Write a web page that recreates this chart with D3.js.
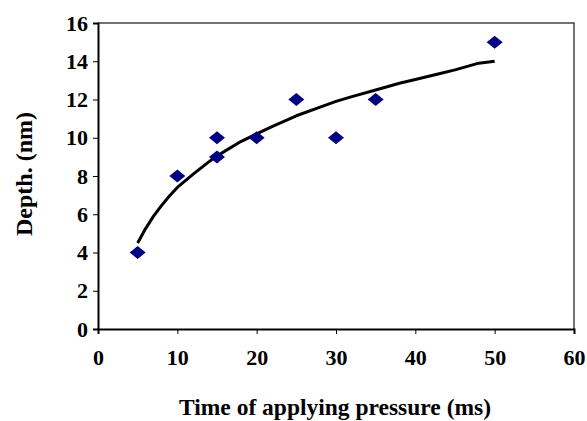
<!DOCTYPE html>
<html>
<head>
<meta charset="utf-8">
<script src="https://cdn.jsdelivr.net/npm/d3@7"></script>
<style>
  body { margin: 0; background: #fff; }
  svg text { font-family: "Liberation Serif", "Times New Roman", "DejaVu Serif", serif; font-weight: bold; fill: #000; }
</style>
</head>
<body>
<div id="chart"></div>
<script>
'use strict';

// measured points
var timeMs = [5, 10, 15, 15, 20, 25, 30, 35, 50];
var depthNm = [4, 8, 10, 9, 10, 12, 10, 12, 15];

// trend line
var trendX = [5, 6, 7, 8, 9, 10, 12, 14, 15, 16, 18, 20, 22, 25, 28, 30, 32, 35, 38, 40, 43, 45, 48, 50];
var trendY = [4.5, 5.25, 5.9, 6.45, 6.95, 7.4, 8.1, 8.75, 9.05, 9.3, 9.8, 10.2, 10.6, 11.15, 11.6, 11.9, 12.15, 12.5, 12.85, 13.05, 13.35, 13.55, 13.9, 14.0];

var xTicks = [0, 10, 20, 30, 40, 50, 60];
var yTicks = [0, 2, 4, 6, 8, 10, 12, 14, 16];

var width = 587, height = 421;
var margin = { top: 23, right: 13, bottom: 92, left: 98 };

var svg = d3.select("#chart")
    .append("svg")
    .attr("width", width)
    .attr("height", height);

var x = d3.scaleLinear().domain([0, 60]).range([margin.left, width - margin.right]);
var y = d3.scaleLinear().domain([0, 16]).range([height - margin.bottom, margin.top]);

// frame (top and right)
svg.append("path")
    .attr("d", "M" + x(0) + "," + y(16) + "H" + x(60) + "V" + y(0))
    .attr("fill", "none")
    .attr("stroke", "#444")
    .attr("stroke-width", 1.5);

var xAxis = svg.append("g")
    .attr("transform", "translate(0," + y(0) + ")")
    .call(d3.axisBottom(x).tickValues(xTicks).tickSize(5).tickPadding(15));

var yAxis = svg.append("g")
    .attr("transform", "translate(" + x(0) + ",0)")
    .call(d3.axisLeft(y).tickValues(yTicks).tickSize(5).tickPadding(5));

[xAxis, yAxis].forEach(function (g) {
    g.attr("font-family", null).attr("font-size", null);
    g.select(".domain").attr("stroke", "#000").attr("stroke-width", 2);
    g.selectAll(".tick line").attr("stroke", "#000").attr("stroke-width", 1);
    g.selectAll(".tick text")
        .attr("fill", "#000")
        .style("font-size", "22px");
});

// trend line
var trend = trendX.map(function (d, i) { return [d, trendY[i]]; });
svg.append("path")
    .datum(trend)
    .attr("fill", "none")
    .attr("stroke", "#000")
    .attr("stroke-width", 3)
    .attr("stroke-linejoin", "round")
    .attr("d", d3.line()
        .x(function (d) { return x(d[0]); })
        .y(function (d) { return y(d[1]); }));

// diamonds
var pts = timeMs.map(function (d, i) { return [d, depthNm[i]]; });
svg.selectAll("path.pt")
    .data(pts)
    .enter()
    .append("path")
    .attr("class", "pt")
    .attr("d", "M0,-6.5L8,0L0,6.5L-8,0Z")
    .attr("fill", "#000080")
    .attr("transform", function (d) { return "translate(" + x(d[0]) + "," + y(d[1]) + ")"; });

// axis titles
svg.append("text")
    .attr("x", 335)
    .attr("y", 415)
    .attr("text-anchor", "middle")
    .style("font-size", "23.5px")
    .text("Time of applying pressure (ms)");

svg.append("text")
    .attr("transform", "translate(32,174) rotate(-90)")
    .attr("text-anchor", "middle")
    .style("font-size", "24px")
    .text("Depth. (nm)");
</script>
</body>
</html>
